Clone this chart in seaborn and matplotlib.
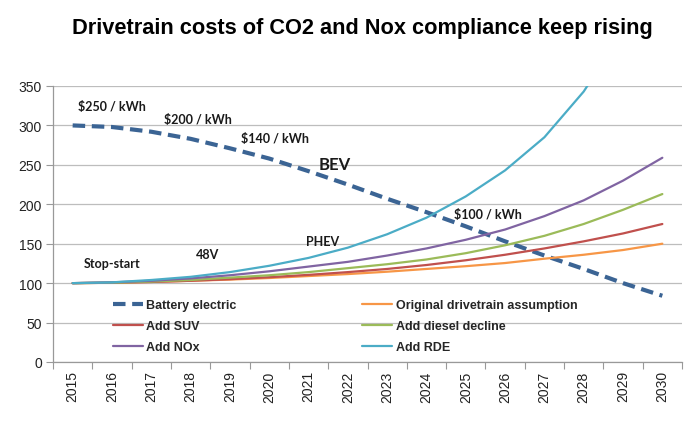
"""Drivetrain cost index chart: CO2 and NOx compliance vs battery electric."""

import matplotlib

matplotlib.use("Agg")
import matplotlib.pyplot as plt
import pandas as pd
import seaborn as sns
from matplotlib.ticker import FixedLocator

years = list(range(2015, 2031))

battery_electric = [300, 298, 292, 283, 271, 258, 242, 225, 207, 190, 172, 153, 135, 118, 100, 84]
original_drivetrain = [100, 100.5, 101.5, 103, 104.5, 106.5, 109, 111.5, 114.5, 118, 121.5, 125.5, 131, 136, 142, 150]
add_suv = [100, 100.5, 101.5, 103, 105, 107.5, 110.5, 114, 118, 123, 129, 136, 144, 153, 163, 175]
add_diesel_decline = [100, 100.5, 102, 104, 107, 110, 114, 119, 124, 130, 138, 148, 160, 175, 193, 213]
add_nox = [100, 101, 103, 106, 110, 115, 121, 127, 135, 144, 155, 168, 185, 205, 230, 259]
add_rde = [100, 101, 104, 108, 114, 122, 132, 145, 162, 183, 210, 243, 285, 343, 420, 510]

series_names = [
    "Battery electric",
    "Original drivetrain assumption",
    "Add SUV",
    "Add diesel decline",
    "Add NOx",
    "Add RDE",
]
series_values = [battery_electric, original_drivetrain, add_suv, add_diesel_decline, add_nox, add_rde]
series_colors = ["#3b6494", "#f79646", "#c0504d", "#9bbb59", "#8064a2", "#4bacc6"]

# (text, x year, y value, size)
annotations = [
    ("$250 / kWh", 2015.13, 320, 9),
    ("$200 / kWh", 2017.32, 303, 9),
    ("$140 / kWh", 2019.27, 279, 9),
    ("BEV", 2021.26, 245, 12),
    ("$100 / kWh", 2024.7, 183, 9),
    ("PHEV", 2020.93, 149, 9),
    ("48V", 2018.13, 132, 9),
    ("Stop-start", 2015.28, 121, 9),
]


def main() -> None:
    sns.set_theme(style="white")
    plt.rcParams["font.family"] = ["Liberation Sans", "DejaVu Sans"]

    df = pd.DataFrame({"year": years})
    for name, values in zip(series_names, series_values):
        df[name] = values

    fig = plt.figure(figsize=(7, 4.27), dpi=100)
    ax = fig.add_axes([53 / 700, 1 - 363 / 427, 629 / 700, 276 / 427])

    lines = {}
    for name, color in zip(series_names, series_colors):
        dashed = name == "Battery electric"
        sns.lineplot(
            data=df, x="year", y=name, ax=ax, color=color,
            linewidth=3 if dashed else 1.6, label=name,
        )
        line = ax.get_lines()[-1]
        if dashed:
            line.set_dashes([3.0, 1.6])
        lines[name] = line

    ax.set_xlim(2014.5, 2030.5)
    ax.set_ylim(0, 350)
    ax.set_yticks(range(0, 351, 50))
    ax.set_xticks(years)
    ax.set_xticklabels([str(y) for y in years], rotation=90)
    ax.xaxis.set_minor_locator(FixedLocator([y - 0.5 for y in years] + [2030.5]))
    ax.tick_params(axis="x", which="major", length=0, pad=6, labelsize=10, colors="#222222")
    ax.tick_params(axis="x", which="minor", length=5, width=0.8, color="#999999", direction="out", bottom=True)
    ax.tick_params(axis="y", length=5, width=0.8, color="#999999", direction="out", left=True,
                   labelsize=10, labelcolor="#222222", pad=3)
    ax.set_xlabel("")
    ax.set_ylabel("")
    ax.grid(axis="y", color="#bdbdbd", linewidth=0.9)
    ax.set_axisbelow(True)
    for side in ["top", "right"]:
        ax.spines[side].set_visible(False)
    for side in ["left", "bottom"]:
        ax.spines[side].set_color("#999999")
        ax.spines[side].set_linewidth(0.9)

    order = ["Battery electric", "Add SUV", "Add NOx",
             "Original drivetrain assumption", "Add diesel decline", "Add RDE"]
    ax.legend(
        [lines[n] for n in order], order, ncol=2, frameon=False,
        loc="upper left", bbox_to_anchor=(0.087, 0.246),
        handlelength=2.4, handletextpad=0.3, columnspacing=10,
        labelspacing=0.72, borderaxespad=0,
        prop={"family": ["Liberation Sans"], "weight": "bold", "size": 9},
    )

    for text, x, y, size in annotations:
        ax.text(x, y, text, fontsize=size, fontweight="bold", color="#1a1a1a",
                family=["Lato", "DejaVu Sans"], va="baseline")

    fig.text(362 / 700, 0.934, "Drivetrain costs of CO2 and Nox compliance keep rising",
             ha="center", va="center", fontsize=15.7, fontweight="bold", color="black")

    fig.savefig("out.png", dpi=100)
    plt.close(fig)


if __name__ == "__main__":
    main()
